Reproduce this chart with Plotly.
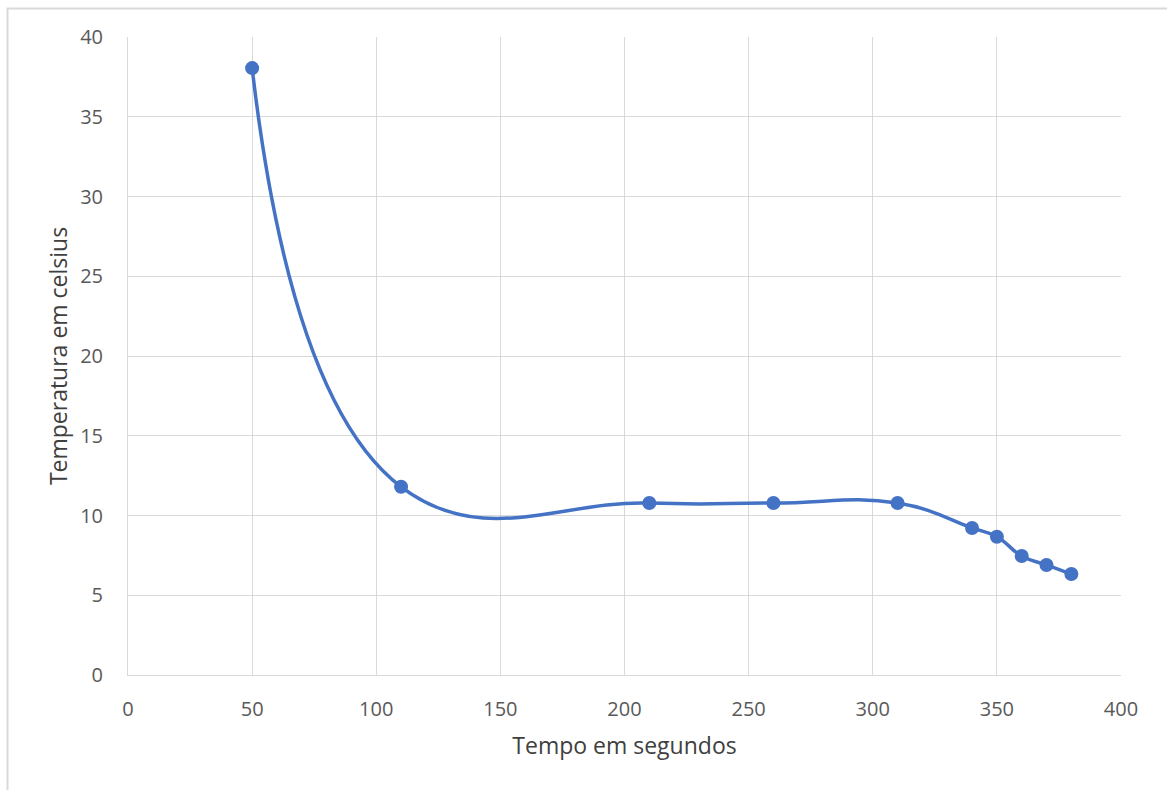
import plotly.graph_objects as go

tempo = [50, 110, 210, 260, 310, 340, 350, 360, 370, 380]
temperatura = [38.05, 11.8, 10.78, 10.78, 10.78, 9.22, 8.67, 7.46, 6.9, 6.33]

x_ticks = [0, 50, 100, 150, 200, 250, 300, 350, 400]
y_ticks = [0, 5, 10, 15, 20, 25, 30, 35, 40]

blue = "#4472C4"
grid = "#d9d9d9"
font_fam = "Open Sans, Noto Sans, sans-serif"

fig = go.Figure()
fig.add_trace(go.Scatter(
    x=tempo, y=temperatura, mode="lines+markers",
    line=dict(color=blue, width=3.5, shape="spline", smoothing=1.3),
    marker=dict(color=blue, size=14),
    showlegend=False,
))

fig.update_layout(
    width=1167, height=790,
    margin=dict(l=128, r=46, t=37, b=115),
    plot_bgcolor="white", paper_bgcolor="white",
    font=dict(family=font_fam, color="#595959", size=20),
    xaxis=dict(
        range=[0, 400], tickvals=x_ticks, ticktext=[str(v) for v in x_ticks],
        tickfont=dict(size=20, color="#595959"),
        showgrid=True, gridcolor=grid, gridwidth=1,
        showline=True, linecolor=grid, linewidth=1, mirror=False,
        zeroline=False, ticks="", ticklabelstandoff=16,
        title=dict(text="Tempo em segundos", font=dict(size=23, color="#404040"), standoff=16),
    ),
    yaxis=dict(
        range=[0, 40], tickvals=y_ticks, ticktext=[str(v) for v in y_ticks],
        tickfont=dict(size=20, color="#595959"),
        showgrid=True, gridcolor=grid, gridwidth=1,
        showline=True, linecolor=grid, linewidth=1,
        zeroline=False, ticks="", ticklabelstandoff=20,
        title=dict(text="Temperatura em celsius", font=dict(size=23, color="#404040"), standoff=6),
    ),
    shapes=[dict(
        type="rect", xref="paper", yref="paper",
        x0=(7.5 - 128) / 993, x1=1.2, y0=-0.4, y1=(675 - 8.5) / 638,
        line=dict(color="#d9d9d9", width=2), fillcolor="rgba(0,0,0,0)", layer="below",
    )],
)

fig.write_html("out.html")
